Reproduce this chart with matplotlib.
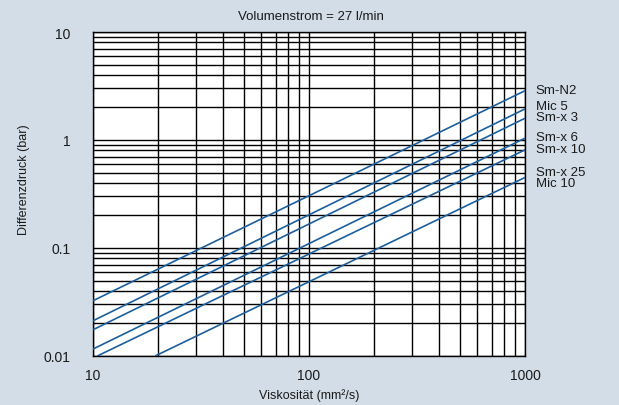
import matplotlib
matplotlib.use("Agg")
import matplotlib.pyplot as plt
from matplotlib.ticker import LogLocator, NullFormatter, FixedLocator, FixedFormatter

plt.rcParams['font.family'] = ['Liberation Sans', 'DejaVu Sans']

# series: viscosity (mm2/s) and pressure drop (bar) at the two ends of each line
series_names = ["Sm-N2", "Mic 5", "Sm-x 3", "Sm-x 6", "Sm-x 10", "Mic 10"]
visc_start = [10, 10, 10, 10, 10.47, 19.4]
dp_start = [0.0325, 0.0212, 0.0175, 0.0116, 0.01, 0.01]
visc_end = [1000, 1000, 1000, 1000, 1000, 1000]
dp_end = [2.86, 1.94, 1.59, 1.04, 0.81, 0.45]

# labels on the right side of the chart
label_names = ["Sm-N2", "Mic 5", "Sm-x 3", "Sm-x 6", "Sm-x 10", "Sm-x 25", "Mic 10"]
label_dp = [2.9, 2.05, 1.62, 1.07, 0.83, 0.51, 0.40]

x_ticks = [10, 100, 1000]
x_ticklabels = ["10", "100", "1000"]
y_ticks = [0.01, 0.1, 1, 10]
y_ticklabels = ["0.01", "0.1", "1", "10"]

bg = "#d3dde8"
line_color = "#1c5f9c"

fig = plt.figure(figsize=(6.19, 4.06), dpi=100, facecolor=bg)
ax = fig.add_axes([93 / 619, 49 / 406, 432 / 619, 324 / 406])
ax.set_facecolor("white")
ax.set_xscale("log")
ax.set_yscale("log")
ax.set_xlim(10, 1000)
ax.set_ylim(0.01, 10)

for i in range(len(series_names)):
    ax.plot([visc_start[i], visc_end[i]], [dp_start[i], dp_end[i]],
            color=line_color, lw=1.2, solid_capstyle="butt", zorder=3)

ax.xaxis.set_major_locator(FixedLocator(x_ticks))
ax.xaxis.set_major_formatter(FixedFormatter(x_ticklabels))
ax.yaxis.set_major_locator(FixedLocator(y_ticks))
ax.yaxis.set_major_formatter(FixedFormatter(y_ticklabels))
ax.xaxis.set_minor_locator(LogLocator(base=10, subs=range(2, 10)))
ax.yaxis.set_minor_locator(LogLocator(base=10, subs=range(2, 10)))
ax.xaxis.set_minor_formatter(NullFormatter())
ax.yaxis.set_minor_formatter(NullFormatter())

ax.grid(True, which="both", color="black", lw=1.0)
ax.set_axisbelow(True)
for s in ax.spines.values():
    s.set_color("black")
    s.set_linewidth(1.0)
ax.tick_params(which="both", length=0, labelsize=10, colors="#1a1a1a")
ax.tick_params(axis="y", pad=16)
ax.tick_params(axis="x", pad=9)

for name, y in zip(label_names, label_dp):
    ax.text(1000 * 1.12, y, name, fontsize=9.5, va="center", ha="left",
            color="#1a1a1a", clip_on=False)

fig.text(311 / 619, 1 - 17 / 406, "Volumenstrom = 27 l/min", ha="center",
         va="center", fontsize=9.5, color="#1a1a1a")
fig.text(309 / 619, 1 - 396 / 406, "Viskosität (mm²/s)", ha="center",
         va="center", fontsize=9, color="#1a1a1a")
fig.text(24 / 619, 1 - 180 / 406, "Differenzdruck (bar)", ha="center",
         va="center", rotation=90, fontsize=9, color="#1a1a1a")

fig.savefig("out.png", dpi=100, facecolor=bg)
